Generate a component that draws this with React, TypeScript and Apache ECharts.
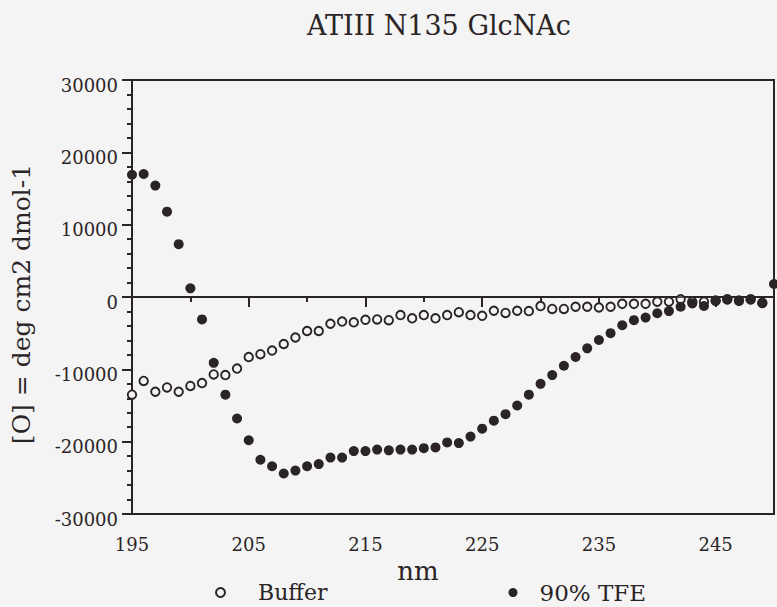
import React, { useEffect, useRef } from "react";
import * as echarts from "echarts";

const wavelengths = [
  195, 196, 197, 198, 199, 200, 201, 202, 203, 204, 205, 206, 207, 208, 209, 210,
  211, 212, 213, 214, 215, 216, 217, 218, 219, 220, 221, 222, 223, 224, 225, 226,
  227, 228, 229, 230, 231, 232, 233, 234, 235, 236, 237, 238, 239, 240, 241, 242,
  243, 244, 245, 246, 247, 248, 249, 250,
];

const bufferValues = [
  -13500, -11600, -13100, -12500, -13100, -12300, -11900, -10700, -10800, -9900,
  -8300, -7900, -7400, -6500, -5600, -4700, -4700, -3700, -3400, -3500,
  -3150, -3100, -3200, -2500, -2950, -2500, -2950, -2500, -2100, -2500,
  -2600, -1900, -2200, -1900, -1950, -1250, -1650, -1650, -1350, -1350,
  -1450, -1350, -950, -950, -950, -650, -650, -300, -650, -650,
  -500, -350, -500, -350, -800,
];

const tfeValues = [
  16900, 17000, 15400, 11800, 7300, 1200, -3100, -9100, -13500, -16800,
  -19800, -22500, -23400, -24400, -24000, -23400, -23100, -22200, -22200, -21300,
  -21300, -21100, -21200, -21100, -21100, -20900, -20800, -20100, -20200, -19300,
  -18200, -17100, -16200, -15000, -13500, -12000, -10800, -9500, -8300, -7100,
  -5950, -5000, -3900, -3200, -2850, -2250, -1950, -1350, -900, -1250,
  -550, -300, -550, -300, -850, 1800,
];

const xTicks = [195, 205, 215, 225, 235, 245];
const yTicks = [-30000, -20000, -10000, 0, 10000, 20000, 30000];

const INK = "#2b2426";
const BG = "#f4f4f4";
const FONT = "DejaVu Serif";

export default function App() {
  const ref = useRef<HTMLDivElement>(null);

  useEffect(() => {
    if (!ref.current) return;
    const chart = echarts.init(ref.current, undefined, { renderer: "svg" });

    const buffer = bufferValues.map((v, i) => [wavelengths[i], v]);
    const tfe = tfeValues.map((v, i) => [wavelengths[i], v]);

    chart.setOption({
      animation: false,
      backgroundColor: BG,
      title: {
        text: "ATIII N135 GlcNAc",
        left: 434,
        top: 7,
        textAlign: "center",
        textStyle: { fontFamily: FONT, fontSize: 27, fontWeight: "normal", color: INK },
      },
      legend: {
        left: 210,
        top: 576,
        itemWidth: 9,
        itemHeight: 9,
        itemGap: 181,
        textStyle: { fontFamily: FONT, fontSize: 22, color: INK, padding: [0, 0, 0, 28] },
        data: [
          { name: "Buffer" },
          { name: "90% TFE", textStyle: { fontFamily: FONT, fontSize: 23, color: INK, padding: [0, 0, 0, 17] } },
        ],
      },
      grid: { left: 132, top: 80, right: -3, bottom: 93, show: true, borderColor: INK, borderWidth: 2, backgroundColor: "transparent" },
      xAxis: {
        type: "value",
        min: 195,
        max: 250,
        interval: 10,
        name: "nm",
        nameLocation: "middle",
        nameGap: 42,
        nameTextStyle: { fontFamily: FONT, fontSize: 26, color: INK, padding: [0, 70, 0, 0] },
        axisLine: { show: true, lineStyle: { color: INK, width: 2 } },
        axisTick: { show: true, length: 10, lineStyle: { color: INK, width: 2 } },
        minorTick: { show: true, splitNumber: 2, length: 5, lineStyle: { color: INK, width: 2 } },
        splitLine: { show: false },
        axisLabel: {
          fontFamily: FONT,
          fontSize: 18,
          color: INK,
          margin: 21,
          formatter: (v: number) => (xTicks.includes(v) ? String(v) : ""),
        },
      },
      yAxis: {
        type: "value",
        min: -30000,
        max: 30000,
        interval: 10000,
        name: "[O] = deg cm2 dmol-1",
        nameLocation: "middle",
        nameGap: 98,
        nameTextStyle: { fontFamily: FONT, fontSize: 25, color: INK, padding: [0, 14, 0, 0] },
        axisLine: { show: true, lineStyle: { color: INK, width: 2 } },
        axisTick: { show: true, length: 10, lineStyle: { color: INK, width: 2 } },
        minorTick: { show: true, splitNumber: 5, length: 5, lineStyle: { color: INK, width: 2 } },
        splitLine: { show: false },
        axisLabel: {
          color: INK,
          margin: 14,
          verticalAlign: "middle",
          formatter: (v: number) => (yTicks.includes(v) ? "{a|" + v + "}" : ""),
          rich: {
            a: { fontFamily: FONT, fontSize: 18, color: INK, padding: [10, 0, 0, 0] },
          },
        },
      },
      series: [
        {
          name: "Buffer",
          type: "scatter",
          symbol: "circle",
          symbolSize: 8.5,
          itemStyle: { color: BG, borderColor: INK, borderWidth: 1.9, opacity: 1 },
          data: buffer,
          markLine: {
            silent: true,
            symbol: "none",
            label: { show: false },
            lineStyle: { color: INK, width: 1.6, type: "solid" },
            data: [{ yAxis: 0 }],
          },
          z: 2,
        },
        {
          name: "90% TFE",
          type: "scatter",
          symbol: "circle",
          symbolSize: 10,
          itemStyle: { color: INK, opacity: 1 },
          data: tfe,
          z: 3,
        },
      ],
    });

    return () => chart.dispose();
  }, []);

  return (
    <div
      ref={ref}
      style={{ position: "absolute", left: 0, top: 0, width: 777, height: 607 }}
    />
  );
}
